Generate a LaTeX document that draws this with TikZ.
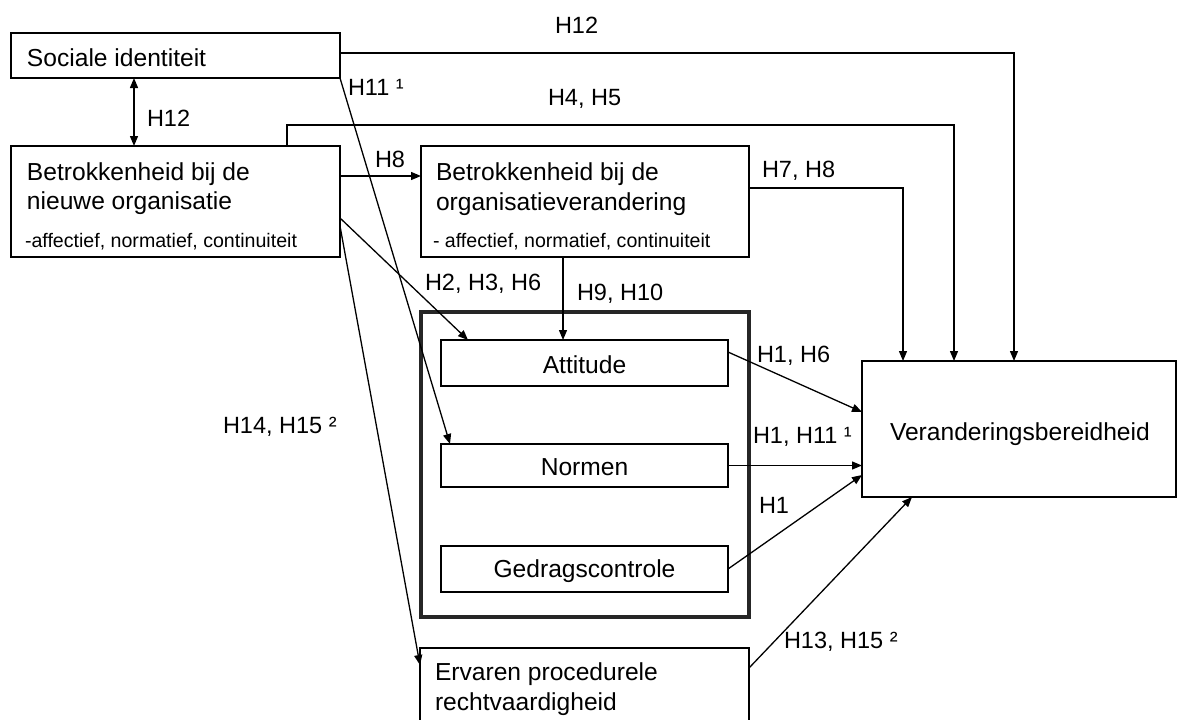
\documentclass[tikz,border=0pt]{standalone}
\usepackage{fontspec}
\setmainfont{Liberation Sans}
\usetikzlibrary{arrows.meta}
\begin{document}
\begin{tikzpicture}[x=1pt,y=-1pt,
  box/.style={draw, line width=1.4pt, inner sep=0pt, outer sep=0pt},
  tpbbox/.style={draw=black!85, line width=3.4pt, inner sep=0pt, outer sep=0pt},
  txt/.style={inner sep=0pt, outer sep=0pt, anchor=base west, font=\fontsize{24.6}{29}\selectfont},
  ctxt/.style={inner sep=0pt, outer sep=0pt, anchor=base, font=\fontsize{24.6}{29}\selectfont},
  subtxt/.style={inner sep=0pt, outer sep=0pt, anchor=base west, font=\fontsize{19.6}{23}\selectfont},
  lbl/.style={inner sep=0pt, outer sep=0pt, anchor=base west, font=\fontsize{23.5}{28}\selectfont},
  con/.style={line width=1.3pt, -{Triangle[length=10pt,width=8pt]}},
  dcon/.style={line width=1.3pt, {Triangle[length=10pt,width=8pt]}-{Triangle[length=10pt,width=8pt]}}]
\useasboundingbox (0,0) rectangle (1178,720);
\clip (0,0) rectangle (1178,720);

% boxes
\node[box, minimum width=329pt, minimum height=45pt] (soc) at (175.5,55.5) {};
\node[txt] (soct) at (27,66.5) {Sociale identiteit};

\node[box, minimum width=329pt, minimum height=111pt] (nieuw) at (175.5,201.5) {};
\node[txt] (n1) at (27,180) {Betrokkenheid bij de};
\node[txt] (n2) at (27,209) {nieuwe organisatie};
\node[subtxt] (n3) at (25,247) {-affectief, normatief, continuiteit};

\node[box, minimum width=328pt, minimum height=111pt] (org) at (585,201.5) {};
\node[txt] (o1) at (436,180) {Betrokkenheid bij de};
\node[txt] (o2) at (436,210) {organisatieverandering};
\node[subtxt] (o3) at (433,247) {- affectief, normatief, continuiteit};

\node[tpbbox, minimum width=328pt, minimum height=305pt] (tpb) at (585,464.5) {};
\node[box, minimum width=287pt, minimum height=46pt] (att) at (584.5,363) {};
\node[ctxt] (attt) at (584.5,373) {Attitude};
\node[box, minimum width=287pt, minimum height=43pt] (norm) at (584.5,465.5) {};
\node[ctxt] (normt) at (584.5,475) {Normen};
\node[box, minimum width=287pt, minimum height=46pt] (gedr) at (584.5,569) {};
\node[ctxt] (gedrt) at (584.5,577) {Gedragscontrole};

\node[box, minimum width=329pt, minimum height=92pt] (erv) at (584.5,694) {};
\node[txt] (e1) at (435,680) {Ervaren procedurele};
\node[txt] (e2) at (435,710) {rechtvaardigheid};

\node[box, minimum width=314pt, minimum height=136pt] (ver) at (1019,429) {};
\node[txt] (vt) at (890,440) {Veranderingsbereidheid};

% helper coordinates
\coordinate (c134) at (134,0);
\coordinate (c287) at (287,0);
\coordinate (c954t) at (954,125);
\coordinate (c1014) at (1014,0);
\coordinate (c903) at (903,0);
\coordinate (c563) at (563,0);

% connectors
\draw[dcon] (soc.south -| c134) -- (nieuw.north -| c134);
\draw[con] ([yshift=2.5pt]soc.east) -| (ver.north -| c1014);
\draw[con] (nieuw.north -| c287) |- (c954t) -- (ver.north -| c954t);
\draw[con] ([yshift=13.5pt]org.east) -| (ver.north -| c903);
\draw[con] ([yshift=25.5pt]nieuw.east) -- ([yshift=25.5pt]org.west);
\draw[con] (soc.south east) -- ([xshift=9pt]norm.north west);
\draw[con] ([yshift=-16.5pt]nieuw.east) -- ([xshift=27pt]att.north west);
\draw[con] ([yshift=-24.5pt]nieuw.east) -- ([yshift=-17pt]erv.north west);
\draw[con] (org.south -| c563) -- (att.north -| c563);
\draw[con] ([yshift=11pt]att.east) -- ([yshift=17pt]ver.west);
\draw[con] (norm.east) -- (ver.west |- norm.east);
\draw[con] (gedr.east) -- ([yshift=-46pt]ver.west);
\draw[con] ([yshift=-20pt]erv.north east) -- ([xshift=50pt]ver.south west);

% labels
\node[lbl] (l1) at (555,33.5) {H12};
\node[lbl] (l2) at (548,105.5) {H4, H5};
\node[lbl] (l3) at (348,95) {H11 ¹};
\node[lbl] (l4) at (147,126) {H12};
\node[lbl] (l5) at (375,167) {H8};
\node[lbl] (l6) at (762,177) {H7, H8};
\node[lbl] (l7) at (425,290) {H2, H3, H6};
\node[lbl] (l8) at (577,300) {H9, H10};
\node[lbl] (l9) at (757,362) {H1, H6};
\node[lbl] (l10) at (753,443) {H1, H11 ¹};
\node[lbl] (l11) at (759,513) {H1};
\node[lbl] (l12) at (223,433) {H14, H15 ²};
\node[lbl] (l13) at (784,648) {H13, H15 ²};
\end{tikzpicture}
\end{document}
